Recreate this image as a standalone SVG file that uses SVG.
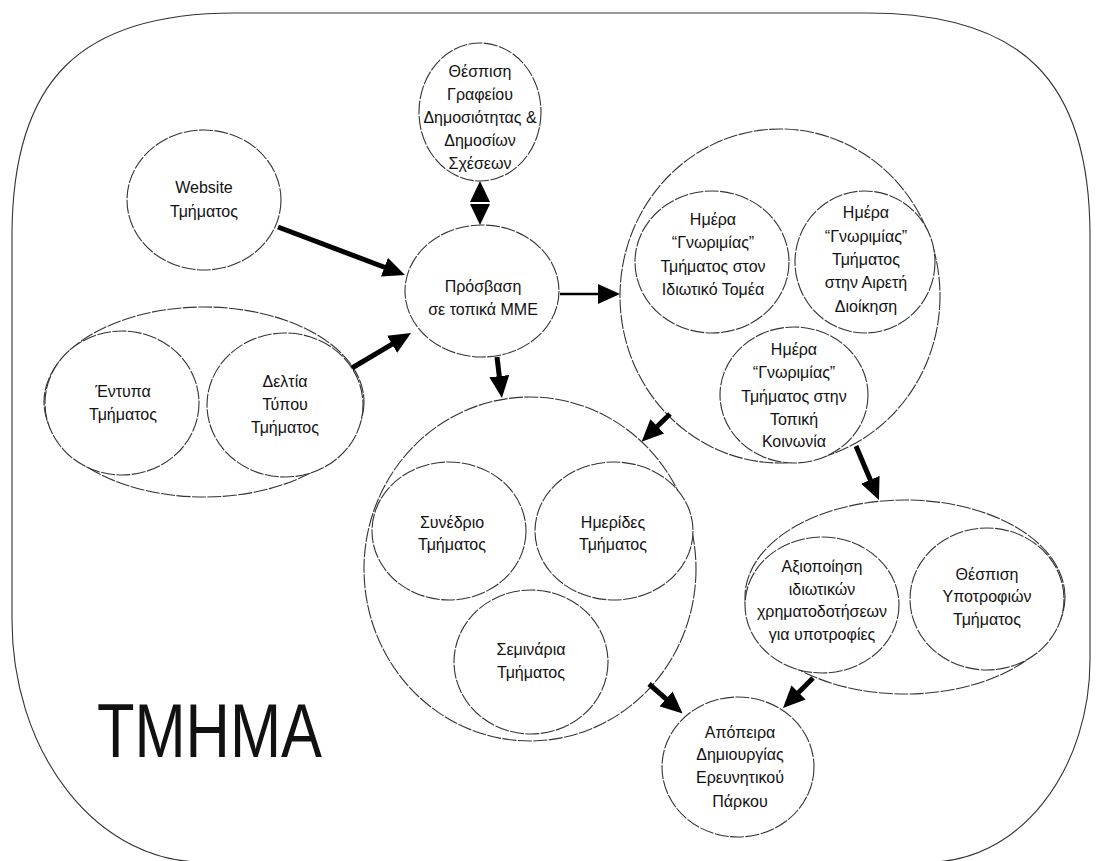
<svg xmlns="http://www.w3.org/2000/svg" width="1096" height="861" viewBox="0 0 1096 861">
<style>
.n{fill:#fff;stroke:#333;stroke-width:1.1;stroke-dasharray:14 1.5}
.g{fill:none;stroke:#333;stroke-width:1.1;stroke-dasharray:14 1.5}
.b{fill:none;stroke:#333;stroke-width:1.1}
.t{font-family:"Liberation Sans",Arial,sans-serif;font-size:16px;fill:#111;text-anchor:middle}
.c{stroke:#000;stroke-width:5;fill:none}
.h{fill:#000}
</style>
<defs>
<marker id="ah" viewBox="0 0 22 20" refX="5" refY="10" markerWidth="22" markerHeight="20" markerUnits="userSpaceOnUse" orient="auto">
<path d="M0,0 L22,10 L0,20 z" fill="#000"/>
</marker>
</defs>
<rect width="1096" height="861" fill="#fff"/>
<path id="boundary" class="b" d="M235,13 L867,13 C1022,13 1090,80 1090,236 L1090,660 A160,202 0 0 1 930,862 L202,862 A190,242 0 0 1 12,620 L12,236 C12,80 80,13 235,13 Z"/>
<text x="97" y="757" font-family="Liberation Sans,Arial,sans-serif" font-size="76" textLength="225" lengthAdjust="spacingAndGlyphs" fill="#111">TMHMA</text>

<g id="group-left"><ellipse class="g" cx="204" cy="402" rx="160" ry="95"/></g>
<g id="group-right"><ellipse class="g" cx="780" cy="296" rx="160" ry="167"/></g>
<g id="group-center"><ellipse class="g" cx="530" cy="569" rx="166" ry="172"/></g>
<g id="group-funding"><ellipse class="g" cx="905" cy="597" rx="160" ry="97"/></g>

<g id="n-grafeio"><ellipse class="n" cx="480" cy="112" rx="61" ry="69"/>
<text class="t"><tspan x="480" y="77">Θέσπιση</tspan><tspan x="480" y="100">Γραφείου</tspan><tspan x="480" y="123">Δημοσιότητας &amp;</tspan><tspan x="480" y="146">Δημοσίων</tspan><tspan x="480" y="169">Σχέσεων</tspan></text></g>

<g id="n-website"><ellipse class="n" cx="204" cy="200" rx="77" ry="70"/>
<text class="t"><tspan x="204" y="193">Website</tspan><tspan x="204" y="217">Τμήματος</tspan></text></g>

<g id="n-prosvasi"><ellipse class="n" cx="482" cy="291" rx="77" ry="66"/>
<text class="t"><tspan x="483" y="292">Πρόσβαση</tspan><tspan x="483" y="315">σε τοπικά ΜΜΕ</tspan></text></g>

<g id="n-entypa"><ellipse class="n" cx="122" cy="403" rx="77" ry="72"/>
<text class="t"><tspan x="123" y="397">Έντυπα</tspan><tspan x="123" y="420">Τμήματος</tspan></text></g>

<g id="n-deltia"><ellipse class="n" cx="285" cy="405" rx="78" ry="72"/>
<text class="t"><tspan x="285" y="387">Δελτία</tspan><tspan x="285" y="410">Τύπου</tspan><tspan x="285" y="433">Τμήματος</tspan></text></g>

<g id="n-imera1"><ellipse class="n" cx="712" cy="262" rx="77" ry="71"/>
<text class="t"><tspan x="713" y="225">Ημέρα</tspan><tspan x="713" y="248">“Γνωριμίας”</tspan><tspan x="713" y="272">Τμήματος στον</tspan><tspan x="713" y="295">Ιδιωτικό Τομέα</tspan></text></g>

<g id="n-imera2"><ellipse class="n" cx="865" cy="262" rx="70" ry="71"/>
<text class="t"><tspan x="866" y="218">Ημέρα</tspan><tspan x="866" y="242">“Γνωριμίας”</tspan><tspan x="866" y="265">Τμήματος</tspan><tspan x="866" y="288">στην Αιρετή</tspan><tspan x="866" y="312">Διοίκηση</tspan></text></g>

<g id="n-imera3"><ellipse class="n" cx="794" cy="395" rx="74" ry="68"/>
<text class="t"><tspan x="794" y="355">Ημέρα</tspan><tspan x="794" y="378">“Γνωριμίας”</tspan><tspan x="794" y="402">Τμήματος στην</tspan><tspan x="794" y="425">Τοπική</tspan><tspan x="794" y="447">Κοινωνία</tspan></text></g>

<g id="n-synedrio"><ellipse class="n" cx="449" cy="531" rx="77" ry="69"/>
<text class="t"><tspan x="452" y="528">Συνέδριο</tspan><tspan x="452" y="550">Τμήματος</tspan></text></g>

<g id="n-imerides"><ellipse class="n" cx="614" cy="531" rx="79" ry="69"/>
<text class="t"><tspan x="613" y="528">Ημερίδες</tspan><tspan x="613" y="550">Τμήματος</tspan></text></g>

<g id="n-seminaria"><ellipse class="n" cx="531" cy="662" rx="77" ry="72"/>
<text class="t"><tspan x="531" y="655">Σεμινάρια</tspan><tspan x="531" y="678">Τμήματος</tspan></text></g>

<g id="n-axiopoiisi"><ellipse class="n" cx="822" cy="605" rx="77" ry="68"/>
<text class="t"><tspan x="822" y="572">Αξιοποίηση</tspan><tspan x="822" y="595">ιδιωτικών</tspan><tspan x="822" y="617">χρηματοδοτήσεων</tspan><tspan x="822" y="640">για υποτροφίες</tspan></text></g>

<g id="n-ypotrofies"><ellipse class="n" cx="987" cy="599" rx="77" ry="71"/>
<text class="t"><tspan x="987" y="580">Θέσπιση</tspan><tspan x="987" y="602">Υποτροφιών</tspan><tspan x="987" y="625">Τμήματος</tspan></text></g>

<g id="n-apopeira"><ellipse class="n" cx="738" cy="767" rx="76" ry="70"/>
<text class="t"><tspan x="740" y="738">Απόπειρα</tspan><tspan x="740" y="760">Δημιουργίας</tspan><tspan x="740" y="783">Ερευνητικού</tspan><tspan x="740" y="807">Πάρκου</tspan></text></g>

<g id="connectors">
<path class="c" d="M278,227 L389.1,269" marker-end="url(#ah)"/>
<path class="c" d="M352,368 L396.4,341.7" marker-end="url(#ah)"/>
<polygon class="h" points="480,181 470,202 490,202"/>
<polygon class="h" points="480,225 470,204 490,204"/>
<path class="c" style="stroke-width:2.5" d="M560,294 L603,294" marker-end="url(#ah)"/>
<path class="c" d="M497,357 L499.9,381.1" marker-end="url(#ah)"/>
<path class="c" d="M670,414 L653.8,429.8" marker-end="url(#ah)"/>
<path class="c" d="M856,446 L872.3,484.4" marker-end="url(#ah)"/>
<path class="c" d="M649,684 L669.8,702.2" marker-end="url(#ah)"/>
<path class="c" d="M813,678 L795,696" marker-end="url(#ah)"/>
</g>
</svg>
